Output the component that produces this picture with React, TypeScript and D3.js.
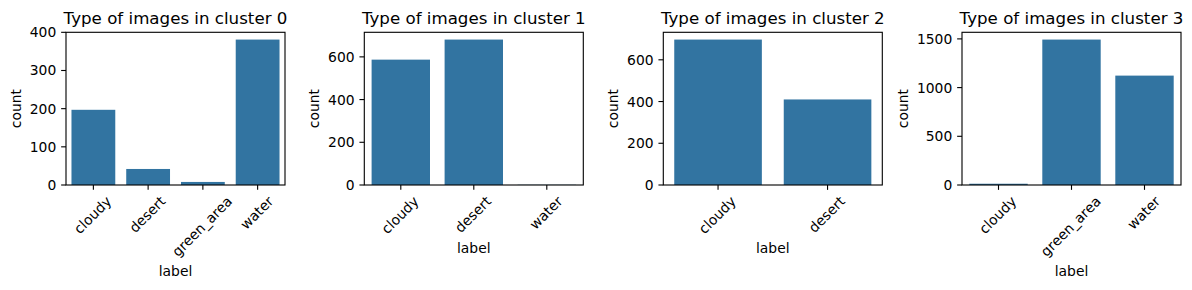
import React from "react";
import * as d3 from "d3";

// ---- data ----
const clusterIds = ["0", "1", "2", "3"];
const labels0 = ["cloudy", "desert", "green_area", "water"];
const counts0 = [197, 42, 8, 381];
const yTicks0 = [0, 100, 200, 300, 400];

const labels1 = ["cloudy", "desert", "water"];
const counts1 = [587, 681, 1];
const yTicks1 = [0, 200, 400, 600];

const labels2 = ["cloudy", "desert"];
const counts2 = [697, 410];
const yTicks2 = [0, 200, 400, 600];

const labels3 = ["cloudy", "green_area", "water"];
const counts3 = [13, 1493, 1123];
const yTicks3 = [0, 500, 1000, 1500];

const panelLabels = [labels0, labels1, labels2, labels3];
const panelCounts = [counts0, counts1, counts2, counts3];
const panelTicks = [yTicks0, yTicks1, yTicks2, yTicks3];

// ---- layout ----
const WIDTH = 1192;
const HEIGHT = 290;
const AX_LEFTS = [66, 364.3, 663.3, 962];
const AX_W = 219;
const AX_TOP = 32.3;
const AX_BOTTOM = 185;
const FONT = "DejaVu Sans, sans-serif";
const FS = 13.89;
const TITLE_FS = 16.67;
const TICK_LEN = 4.86;
const TICK_PAD = 4.86;
const LABEL_PAD = 5.56;
const BAR_COLOR = "#3274a1";

let ctx: CanvasRenderingContext2D | null = null;
function measure(text: string, size: number): number {
  if (!ctx) {
    const c = document.createElement("canvas");
    ctx = c.getContext("2d");
  }
  if (!ctx) return text.length * size * 0.6;
  ctx.font = `${size}px "DejaVu Sans"`;
  return ctx.measureText(text).width;
}

function Panel({ idx }: { idx: number }) {
  const cats = panelLabels[idx];
  const vals = panelCounts[idx];
  const ticks = panelTicks[idx];
  const left = AX_LEFTS[idx];
  const right = left + AX_W;
  const x = d3
    .scaleBand<string>()
    .domain(cats)
    .range([left, right])
    .paddingInner(0.2)
    .paddingOuter(0.1);
  const ymax = (d3.max(vals) as number) * 1.05;
  const y = d3.scaleLinear().domain([0, ymax]).range([AX_BOTTOM, AX_TOP]);
  const h = 0.996 * FS;
  const xLabelTop0 = AX_BOTTOM + TICK_LEN + TICK_PAD;
  let maxBottom = xLabelTop0;
  const xLabels = cats.map((c) => {
    const w = measure(c, FS);
    const half = (w + h) / (2 * Math.SQRT2);
    const cx = (x(c) as number) + x.bandwidth() / 2;
    const cy = xLabelTop0 + half;
    maxBottom = Math.max(maxBottom, cy + half);
    return { c, cx, cy };
  });
  const xlabelBaseline = maxBottom + LABEL_PAD + 0.76 * FS;
  const tickLabelX = left - TICK_LEN - TICK_PAD;
  const minLeft = d3.min(ticks, (t) => tickLabelX - measure(String(t), FS)) as number;
  const ylabelX = minLeft - LABEL_PAD - 0.236 * FS;
  const midY = (AX_TOP + AX_BOTTOM) / 2;

  return (
    <g fontFamily={FONT} fill="#000">
      <text
        x={(left + right) / 2}
        y={AX_TOP - 8.33}
        fontSize={TITLE_FS}
        textAnchor="middle"
      >
        {`Type of images in cluster ${clusterIds[idx]}`}
      </text>
      {cats.map((c, i) => (
        <rect
          key={c}
          x={x(c)}
          width={x.bandwidth()}
          y={y(vals[i])}
          height={AX_BOTTOM - y(vals[i])}
          fill={BAR_COLOR}
        />
      ))}
      <rect
        x={left}
        y={AX_TOP}
        width={AX_W}
        height={AX_BOTTOM - AX_TOP}
        fill="none"
        stroke="#000"
        strokeWidth={1.11}
      />
      {ticks.map((t) => (
        <g key={t}>
          <line
            x1={left - TICK_LEN}
            x2={left}
            y1={y(t)}
            y2={y(t)}
            stroke="#000"
            strokeWidth={1.11}
          />
          <text x={tickLabelX} y={y(t)} dy="0.36em" fontSize={FS} textAnchor="end">
            {t}
          </text>
        </g>
      ))}
      {xLabels.map(({ c, cx, cy }) => (
        <g key={c}>
          <line
            x1={cx}
            x2={cx}
            y1={AX_BOTTOM}
            y2={AX_BOTTOM + TICK_LEN}
            stroke="#000"
            strokeWidth={1.11}
          />
          <text
            transform={`translate(${cx},${cy}) rotate(-45)`}
            dy="0.27em"
            fontSize={FS}
            textAnchor="middle"
          >
            {c}
          </text>
        </g>
      ))}
      <text x={(left + right) / 2} y={xlabelBaseline} fontSize={FS} textAnchor="middle">
        label
      </text>
      <text
        transform={`translate(${ylabelX},${midY}) rotate(-90)`}
        fontSize={FS}
        textAnchor="middle"
      >
        count
      </text>
    </g>
  );
}

export default function App() {
  return (
    <svg
      width={WIDTH}
      height={HEIGHT}
      style={{ position: "absolute", left: 0, top: 0, background: "#fff" }}
    >
      <rect width={WIDTH} height={HEIGHT} fill="#fff" />
      {clusterIds.map((_, i) => (
        <Panel key={i} idx={i} />
      ))}
    </svg>
  );
}
